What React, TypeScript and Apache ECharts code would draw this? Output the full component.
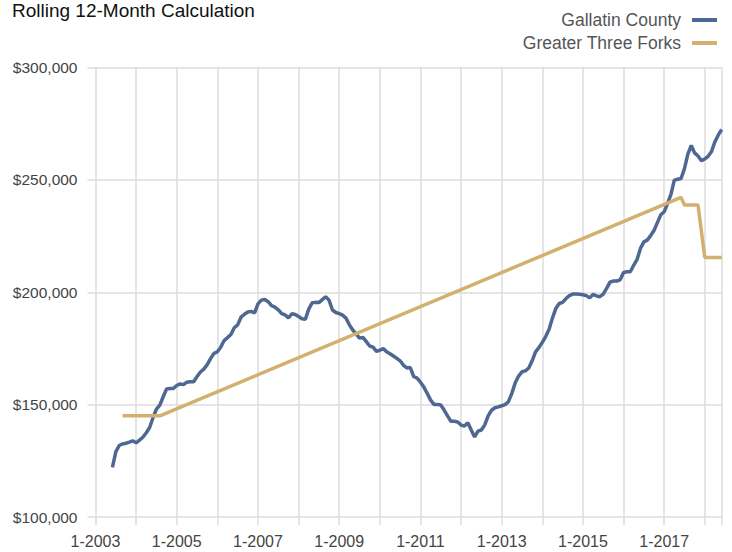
import React, { useEffect, useRef } from "react";
import * as echarts from "echarts";

// Months from 1-2003 to 6-2018
const months: string[] = [];
for (let y = 2003; y <= 2018; y++) {
  for (let m = 1; m <= 12; m++) {
    if (y === 2018 && m > 6) break;
    months.push(`${m}-${y}`);
  }
}

// Gallatin County, starting 6-2003 (index 5), in $ thousands
const gallatinStartIndex = 5;
const gallatinK: number[] = [
  122.1, 129, 131.8, 132.5, 132.8, 133.3, 133.9, 133.0, 134.2, 135.5, 137.5, 139.8, 144.3, 148.0, 149.8,
  153.5, 157.0, 157.2, 157.2, 158.5, 159.2, 158.9, 160, 160.2, 160.2, 162.5, 164.5, 165.8, 167.8, 170.5,
  172.8, 173.5, 175.5, 178.5, 179.8, 181.2, 184.2, 185.5, 188.9, 190.2, 191.2, 191.5, 190.8, 194.8, 196.5,
  196.8, 195.8, 194, 193.4, 192.2, 190.5, 189.9, 188.6, 190.4, 190.1, 189.2, 188.2, 188, 192.5, 195.3,
  195.5, 195.4, 196.7, 198, 196.5, 192.1, 191, 190.5, 189.8, 188.5, 185.5, 183.2, 181.5, 179.6, 179.9,
  178, 176.1, 175.6, 173.7, 174.2, 175, 173.5, 172.6, 171.6, 170.6, 169.5, 167.5, 166.3, 166.5, 162.5,
  161.8, 160, 157.8, 155, 152, 150.1, 150.1, 149.8, 147.6, 145, 142.6, 142.6, 142.3, 140.9, 140.5,
  141.9, 138.7, 135.6, 138.2, 138.7, 141, 145, 147.5, 148.6, 149, 149.5, 150, 151.3, 155, 159.7,
  162.7, 164.6, 165, 166.3, 169.5, 173.5, 175.4, 177.7, 180.3, 183.5, 188.5, 192.8, 195, 195.5, 197.2,
  198.5, 199.2, 199.2, 199.1, 198.9, 198.5, 197.5, 199, 198.4, 198, 199.2, 201.7, 204.5, 205, 205,
  205.5, 208.8, 209.1, 209.1, 212, 214.6, 219.5, 222.4, 223.2, 225.2, 227.5, 231, 234.5, 235.8, 239.5,
  243.5, 249.9, 250.3, 250.6, 255, 261.5, 265.3, 262, 260.6, 258.5, 259.3, 260.5, 262.6, 267, 270,
  272.4,
];

// Greater Three Forks: sparse observations (index -> $ thousands)
const threeForksIdx: number[] = [8, 19, 173, 174, 178, 180, 185];
const threeForksK: number[] = [145, 145, 242.2, 238.8, 238.8, 215.5, 215.5];

const yTicks: number[] = [100000, 150000, 200000, 250000, 300000];

const gallatin: (number | null)[] = months.map((_, i) => {
  const j = i - gallatinStartIndex;
  return j >= 0 && j < gallatinK.length ? gallatinK[j] * 1000 : null;
});
const threeForks: (number | null)[] = months.map((_, i) => {
  const j = threeForksIdx.indexOf(i);
  return j >= 0 ? threeForksK[j] * 1000 : null;
});

const FONT = "'Liberation Sans', Arial, sans-serif";
const GRID = "#dcdcdc";

export default function App() {
  const ref = useRef<HTMLDivElement>(null);
  useEffect(() => {
    if (!ref.current) return;
    const chart = echarts.init(ref.current, undefined, { renderer: "svg" });
    const last = months.length - 1;
    chart.setOption({
      animation: false,
      backgroundColor: "#fff",
      title: {
        text: "Rolling 12-Month Calculation",
        left: 12,
        top: 1,
        padding: 0,
        textStyle: { fontFamily: FONT, fontSize: 19, fontWeight: "normal", color: "#111" },
      },
      legend: {
        orient: "vertical",
        right: 10,
        top: 6,
        align: "right",
        itemGap: 5,
        itemWidth: 25,
        itemHeight: 4,
        icon: "rect",
        textStyle: { fontFamily: FONT, fontSize: 17.5, color: "#555", padding: [0, 6, 0, 0] },
        data: ["Gallatin County", "Greater Three Forks"],
      },
      grid: { left: 95.5, right: 10.3, top: 67.5, bottom: 35, containLabel: false },
      xAxis: {
        type: "category",
        data: months,
        boundaryGap: false,
        axisLine: { show: false },
        axisTick: {
          show: true,
          length: 8,
          interval: (i: number) => i % 12 === 0 || i === last,
          lineStyle: { color: GRID, width: 1.5 },
        },
        splitLine: {
          show: true,
          interval: (i: number) => i % 12 === 0 || i === last,
          lineStyle: { color: GRID, width: 1.5 },
        },
        axisLabel: {
          interval: (i: number) => i % 24 === 0,
          fontFamily: FONT,
          fontSize: 16,
          color: "#444",
          margin: 16,
        },
      },
      yAxis: {
        type: "value",
        min: yTicks[0],
        max: yTicks[yTicks.length - 1],
        interval: 50000,
        axisLine: { show: false },
        axisTick: { show: true, length: 8, lineStyle: { color: GRID, width: 1.5 } },
        splitLine: { show: true, lineStyle: { color: GRID, width: 1.5 } },
        axisLabel: {
          fontFamily: FONT,
          fontSize: 15.5,
          color: "#444",
          margin: 18,
          formatter: (v: number) => "$" + v.toLocaleString("en-US"),
        },
      },
      series: [
        {
          name: "Gallatin County",
          type: "line",
          data: gallatin,
          showSymbol: false,
          symbol: "none",
          lineStyle: { width: 3.5, color: "#4e6891" },
          itemStyle: { color: "#4e6891" },
        },
        {
          name: "Greater Three Forks",
          type: "line",
          data: threeForks,
          connectNulls: true,
          showSymbol: false,
          symbol: "none",
          lineStyle: { width: 3.5, color: "#d3b06f" },
          itemStyle: { color: "#d3b06f" },
        },
      ],
    });
    return () => chart.dispose();
  }, []);
  return <div ref={ref} style={{ width: 732, height: 552, position: "absolute", left: 0, top: 0 }} />;
}
